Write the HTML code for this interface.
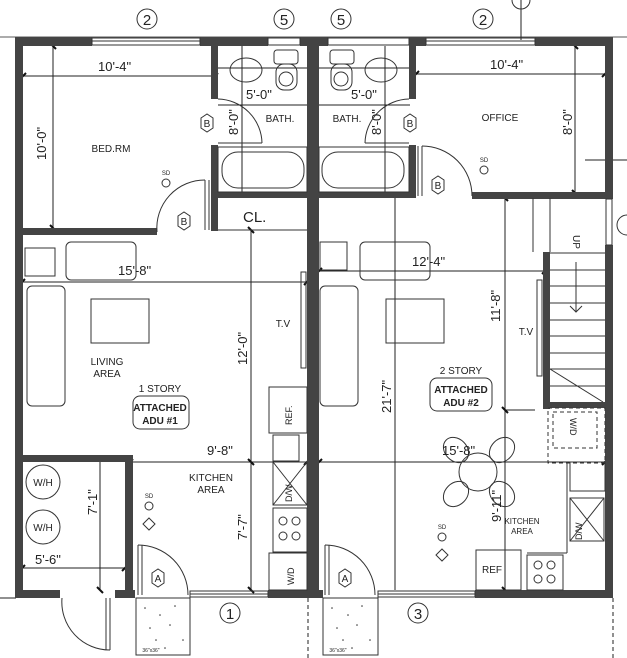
<!DOCTYPE html>
<html><head><meta charset="utf-8"><style>
html,body{margin:0;padding:0;background:#fff}
svg{display:block}
text{font-family:"Liberation Sans",sans-serif;fill:#222}
</style></head><body>
<svg width="627" height="658" viewBox="0 0 627 658" xmlns="http://www.w3.org/2000/svg">
<rect width="627" height="658" fill="#fff"/>
<g stroke="#222" stroke-width="1" fill="none">
<line x1="0" y1="37" x2="627" y2="37" stroke-width="0.8"/>
<line x1="22" y1="76" x2="215" y2="76"/>
<line x1="53" y1="46" x2="53" y2="228"/>
<line x1="218" y1="68" x2="307" y2="68"/>
<line x1="218" y1="105" x2="307" y2="105"/>
<line x1="242" y1="46" x2="242" y2="193"/>
<line x1="319" y1="68" x2="410" y2="68"/>
<line x1="319" y1="105" x2="410" y2="105"/>
<line x1="385" y1="46" x2="385" y2="193"/>
<line x1="416" y1="74" x2="605" y2="74"/>
<line x1="575" y1="46" x2="575" y2="193"/>
<line x1="22" y1="282" x2="307" y2="282"/>
<line x1="251" y1="230" x2="251" y2="590"/>
<line x1="130" y1="462" x2="307" y2="462"/>
<line x1="22" y1="568" x2="125" y2="568"/>
<line x1="100" y1="462" x2="100" y2="590"/>
<line x1="319" y1="271" x2="545" y2="271"/>
<line x1="395" y1="198" x2="395" y2="590"/>
<line x1="505" y1="198" x2="505" y2="590"/>
<line x1="319" y1="462" x2="605" y2="462"/>
<line x1="505" y1="410" x2="535" y2="410"/>
<line x1="585" y1="160" x2="627" y2="160"/>
<line x1="521" y1="0" x2="521" y2="40"/>
<line x1="308" y1="598" x2="308" y2="658" stroke-dasharray="4,3"/>
<line x1="613" y1="598" x2="613" y2="658" stroke-dasharray="4,3"/>
<line x1="0" y1="598" x2="16" y2="598"/>
</g>
<!-- ticks -->
<g stroke="#111" stroke-width="2">
<line x1="20" y1="79" x2="26" y2="73"/><line x1="212" y1="79" x2="218" y2="73"/>
<line x1="50" y1="43" x2="56" y2="49"/><line x1="50" y1="225" x2="56" y2="231"/>
<line x1="19" y1="285" x2="25" y2="279"/><line x1="304" y1="285" x2="310" y2="279"/>
<line x1="248" y1="227" x2="254" y2="233"/><line x1="248" y1="459" x2="254" y2="465"/><line x1="248" y1="587" x2="254" y2="593"/>
<line x1="127" y1="465" x2="133" y2="459"/><line x1="304" y1="465" x2="310" y2="459"/>
<line x1="19" y1="571" x2="25" y2="565"/><line x1="122" y1="571" x2="128" y2="565"/>
<line x1="97" y1="587" x2="103" y2="593"/>
<line x1="316" y1="274" x2="322" y2="268"/><line x1="542" y1="274" x2="548" y2="268"/>
<line x1="316" y1="465" x2="322" y2="459"/><line x1="602" y1="465" x2="608" y2="459"/>
<line x1="502" y1="195" x2="508" y2="201"/><line x1="502" y1="407" x2="508" y2="413"/><line x1="502" y1="587" x2="508" y2="593"/>
<line x1="413" y1="77" x2="419" y2="71"/><line x1="602" y1="77" x2="608" y2="71"/>
<line x1="572" y1="43" x2="578" y2="49"/><line x1="572" y1="190" x2="578" y2="196"/>
</g>
<g fill="#444">
<rect x="15" y="37" width="8" height="560"/>
<rect x="15" y="37" width="77" height="9"/>
<rect x="200" y="37" width="68" height="9"/>
<rect x="300" y="37" width="28" height="9"/>
<rect x="416" y="37" width="10" height="9"/>
<rect x="535" y="37" width="78" height="9"/>
<rect x="307" y="37" width="12" height="560"/>
<rect x="605" y="37" width="8" height="162"/>
<rect x="605" y="245" width="8" height="352"/>
<rect x="22" y="228" width="135" height="7"/>
<rect x="211" y="37" width="7" height="62"/>
<rect x="211" y="145" width="7" height="86"/>
<rect x="211" y="192" width="96" height="6"/>
<rect x="409" y="37" width="7" height="62"/>
<rect x="409" y="145" width="7" height="53"/>
<rect x="319" y="192" width="95" height="6"/>
<rect x="472" y="192" width="140" height="7"/>
<rect x="543" y="252" width="7" height="157"/>
<rect x="543" y="402" width="68" height="6"/>
<rect x="15" y="455" width="118" height="7"/>
<rect x="125" y="455" width="8" height="143"/>
<rect x="15" y="590" width="45" height="8"/>
<rect x="115" y="590" width="20" height="8"/>
<rect x="268" y="590" width="45" height="8"/>
<rect x="307" y="590" width="16" height="8"/>
<rect x="475" y="590" width="138" height="8"/>
</g>
<g stroke="#333" stroke-width="1" fill="none">
<rect x="92" y="38" width="108" height="7"/><line x1="92" y1="41" x2="200" y2="41"/>
<rect x="268" y="38" width="32" height="7"/>
<rect x="328" y="38" width="81" height="7"/>
<rect x="426" y="38" width="109" height="7"/><line x1="426" y1="41" x2="535" y2="41"/>
<rect x="190" y="591" width="78" height="6"/><line x1="190" y1="594" x2="268" y2="594"/>
<rect x="378" y="591" width="97" height="6"/><line x1="378" y1="594" x2="475" y2="594"/>
<rect x="606" y="199" width="6" height="46"/>
<path d="M218 99 A45 45 0 0 1 262 143"/><line x1="218" y1="143" x2="262" y2="143"/>
<path d="M409 99 A45 45 0 0 0 365 143"/><line x1="365" y1="143" x2="409" y2="143"/>
<path d="M157 232 A48 48 0 0 1 205 180"/><line x1="205" y1="180" x2="205" y2="230"/><line x1="209" y1="180" x2="209" y2="230"/>
<path d="M472 196 A50 50 0 0 0 422 146"/><line x1="422" y1="146" x2="422" y2="196"/><line x1="418" y1="146" x2="418" y2="196"/>
<path d="M138 545 A50 50 0 0 1 188 595"/><line x1="138" y1="545" x2="138" y2="595"/><line x1="142" y1="545" x2="142" y2="595"/>
<path d="M325 545 A50 50 0 0 1 375 595"/><line x1="325" y1="545" x2="325" y2="595"/><line x1="329" y1="545" x2="329" y2="595"/>
<path d="M62 598 A48 48 0 0 0 110 650"/><line x1="110" y1="598" x2="110" y2="650"/><line x1="106" y1="598" x2="106" y2="650"/>
<rect x="136" y="598" width="54" height="57"/>
<rect x="323" y="598" width="55" height="57"/>
<ellipse cx="246" cy="70" rx="16" ry="12"/>
<rect x="274" y="50" width="24" height="14" rx="3"/><rect x="276" y="64" width="21" height="26" rx="8"/><circle cx="286" cy="79" r="7"/>
<ellipse cx="381" cy="70" rx="16" ry="12"/>
<rect x="330" y="50" width="24" height="14" rx="3"/><rect x="331" y="64" width="21" height="26" rx="8"/><circle cx="341" cy="79" r="7"/>
<rect x="218" y="147" width="89" height="45"/><rect x="222" y="152" width="82" height="36" rx="16"/>
<rect x="319" y="147" width="90" height="45"/><rect x="322" y="152" width="82" height="36" rx="16"/>
<line x1="218" y1="230" x2="307" y2="230"/>
<rect x="25" y="248" width="30" height="28"/>
<rect x="66" y="242" width="70" height="38" rx="5"/>
<rect x="27" y="286" width="38" height="120" rx="5"/>
<rect x="91" y="299" width="58" height="44"/>
<rect x="301" y="272" width="5" height="96"/>
<rect x="320" y="242" width="27" height="28"/>
<rect x="360" y="242" width="70" height="38" rx="5"/>
<rect x="320" y="286" width="38" height="120" rx="5"/>
<rect x="386" y="299" width="58" height="44"/>
<rect x="537" y="280" width="5" height="96"/>
<rect x="269" y="387" width="38" height="46"/>
<rect x="273" y="435" width="26" height="26"/>
<rect x="273" y="462" width="34" height="43"/><line x1="273" y1="462" x2="307" y2="505"/><line x1="307" y1="462" x2="273" y2="505"/>
<rect x="273" y="508" width="34" height="44"/>
<circle cx="283" cy="521" r="4"/><circle cx="296" cy="521" r="4"/><circle cx="283" cy="536" r="4"/><circle cx="296" cy="536" r="4"/>
<rect x="269" y="553" width="38" height="37"/>
<circle cx="43" cy="482" r="17"/><circle cx="43" cy="527" r="17"/>
<line x1="550" y1="253" x2="605" y2="253"/>
<line x1="550" y1="270" x2="605" y2="270"/><line x1="550" y1="286" x2="605" y2="286"/>
<line x1="550" y1="303" x2="605" y2="303"/><line x1="550" y1="320" x2="605" y2="320"/>
<line x1="550" y1="336" x2="605" y2="336"/><line x1="550" y1="353" x2="605" y2="353"/>
<line x1="550" y1="369" x2="605" y2="369"/><line x1="550" y1="386" x2="605" y2="386"/>
<line x1="550" y1="369" x2="603" y2="402"/>
<line x1="533" y1="198" x2="533" y2="252"/><line x1="550" y1="198" x2="550" y2="252"/>
<line x1="576" y1="262" x2="576" y2="312"/><path d="M570 306 L576 312 L582 306"/>
<rect x="553" y="412" width="44" height="36" stroke-dasharray="4,3"/>
<rect x="548" y="408" width="57" height="55" stroke-dasharray="4,3"/>
<rect x="570" y="462" width="35" height="29"/>
<rect x="570" y="498" width="34" height="43"/><line x1="570" y1="498" x2="604" y2="541"/><line x1="604" y1="498" x2="570" y2="541"/>
<line x1="567" y1="462" x2="567" y2="553"/>
<line x1="527" y1="553" x2="567" y2="553"/>
<rect x="476" y="550" width="45" height="40"/>
<rect x="527" y="555" width="36" height="35"/>
<circle cx="538" cy="565" r="4"/><circle cx="551" cy="565" r="4"/><circle cx="538" cy="579" r="4"/><circle cx="551" cy="579" r="4"/>
<circle cx="478" cy="472" r="19"/>
<ellipse cx="0" cy="0" rx="11" ry="14" transform="translate(456,450) rotate(-45)"/>
<ellipse cx="0" cy="0" rx="11" ry="14" transform="translate(502,450) rotate(45)"/>
<ellipse cx="0" cy="0" rx="11" ry="14" transform="translate(456,494) rotate(45)"/>
<ellipse cx="0" cy="0" rx="11" ry="14" transform="translate(502,494) rotate(-45)"/>
<polygon points="201,118 207,114 213,118 213,128 207,132 201,128" />
<polygon points="178,216 184,212 190,216 190,226 184,230 178,226" />
<polygon points="404,118 410,114 416,118 416,128 410,132 404,128" />
<polygon points="432,180 438,176 444,180 444,190 438,194 432,190" />
<polygon points="152,573 158,569 164,573 164,583 158,587 152,583" />
<polygon points="339,573 345,569 351,573 351,583 345,587 339,583" />
<circle cx="147" cy="19" r="10"/><circle cx="284" cy="19" r="10"/>
<circle cx="341" cy="19" r="10"/><circle cx="483" cy="19" r="10"/>
<circle cx="230" cy="613" r="10"/><circle cx="418" cy="613" r="10"/>
<circle cx="627" cy="225" r="10"/>
<circle cx="521" cy="0" r="9"/>
<circle cx="166" cy="183" r="4"/><circle cx="484" cy="170" r="4"/><circle cx="149" cy="506" r="4"/><circle cx="442" cy="537" r="4"/>
<polygon points="149,518 155,524 149,530 143,524"/><polygon points="442,549 448,555 442,561 436,555"/>
<rect x="133" y="396" width="56" height="33" rx="7"/>
<rect x="430" y="378" width="62" height="33" rx="7"/>
</g>
<g fill="#333">
<circle cx="145" cy="608" r="0.8"/><circle cx="160" cy="615" r="0.8"/><circle cx="175" cy="606" r="0.8"/><circle cx="150" cy="628" r="0.8"/><circle cx="170" cy="625" r="0.8"/><circle cx="183" cy="640" r="0.8"/><circle cx="156" cy="640" r="0.8"/><circle cx="165" cy="648" r="0.8"/>
<circle cx="332" cy="608" r="0.8"/><circle cx="348" cy="615" r="0.8"/><circle cx="362" cy="606" r="0.8"/><circle cx="337" cy="628" r="0.8"/><circle cx="357" cy="625" r="0.8"/><circle cx="370" cy="640" r="0.8"/><circle cx="343" cy="640" r="0.8"/><circle cx="352" cy="648" r="0.8"/>
</g>
<g font-size="13">
<text x="98" y="71">10'-4"</text>
<text x="246" y="99">5'-0"</text>
<text x="351" y="99">5'-0"</text>
<text x="490" y="69">10'-4"</text>
<text x="118" y="275">15'-8"</text>
<text x="412" y="266">12'-4"</text>
<text x="207" y="455">9'-8"</text>
<text x="442" y="455">15'-8"</text>
<text x="35" y="564">5'-6"</text>
<text transform="translate(46,160) rotate(-90)">10'-0"</text>
<text transform="translate(238,135) rotate(-90)">8'-0"</text>
<text transform="translate(381,135) rotate(-90)">8'-0"</text>
<text transform="translate(572,135) rotate(-90)">8'-0"</text>
<text transform="translate(247,365) rotate(-90)">12'-0"</text>
<text transform="translate(247,540) rotate(-90)">7'-7"</text>
<text transform="translate(97,515) rotate(-90)">7'-1"</text>
<text transform="translate(391,413) rotate(-90)">21'-7"</text>
<text transform="translate(500,322) rotate(-90)">11'-8"</text>
<text transform="translate(501,522) rotate(-90)">9'-11"</text>
</g>
<g font-size="10" text-anchor="middle">
<text x="111" y="152">BED.RM</text>
<text x="280" y="122">BATH.</text>
<text x="347" y="122">BATH.</text>
<text x="500" y="121">OFFICE</text>
<text x="107" y="365">LIVING</text>
<text x="107" y="377">AREA</text>
<text x="160" y="392">1 STORY</text>
<text x="461" y="374">2 STORY</text>
<text x="211" y="481">KITCHEN</text>
<text x="211" y="493">AREA</text>
<text x="522" y="524" font-size="8">KITCHEN</text>
<text x="522" y="534" font-size="8">AREA</text>
<text x="283" y="327">T.V</text>
<text x="526" y="335">T.V</text>
<text x="43" y="486">W/H</text>
<text x="43" y="531">W/H</text>
<text x="492" y="573">REF</text>
<text x="207" y="127">B</text><text x="184" y="225">B</text><text x="410" y="127">B</text><text x="438" y="189">B</text>
<text x="158" y="582">A</text><text x="345" y="582">A</text>
<text x="147" y="25" font-size="15">2</text><text x="284" y="25" font-size="15">5</text>
<text x="341" y="25" font-size="15">5</text><text x="483" y="25" font-size="15">2</text>
<text x="230" y="619" font-size="15">1</text><text x="418" y="619" font-size="15">3</text>
<text x="166" y="175" font-size="6">SD</text><text x="484" y="162" font-size="6">SD</text>
<text x="149" y="498" font-size="6">SD</text><text x="442" y="529" font-size="6">SD</text>
<text x="151" y="652" font-size="5">36"x36"</text><text x="338" y="652" font-size="5">36"x36"</text>
<text x="160" y="411" font-weight="bold" font-size="10">ATTACHED</text>
<text x="160" y="424" font-weight="bold" font-size="10">ADU #1</text>
<text x="461" y="393" font-weight="bold" font-size="10">ATTACHED</text>
<text x="461" y="406" font-weight="bold" font-size="10">ADU #2</text>
</g>
<text x="243" y="222" font-size="15">CL.</text>
<text transform="translate(292,425) rotate(-90)" font-size="9">REF.</text>
<text transform="translate(292,502) rotate(-90)" font-size="9">D/W</text>
<text transform="translate(294,585) rotate(-90)" font-size="9">W/D</text>
<text transform="translate(582,540) rotate(-90)" font-size="9">D/W</text>
<text transform="translate(570,418) rotate(90)" font-size="9">W/D</text>
<text transform="translate(573,235) rotate(90)" font-size="10">UP</text>
</svg>
</body></html>
